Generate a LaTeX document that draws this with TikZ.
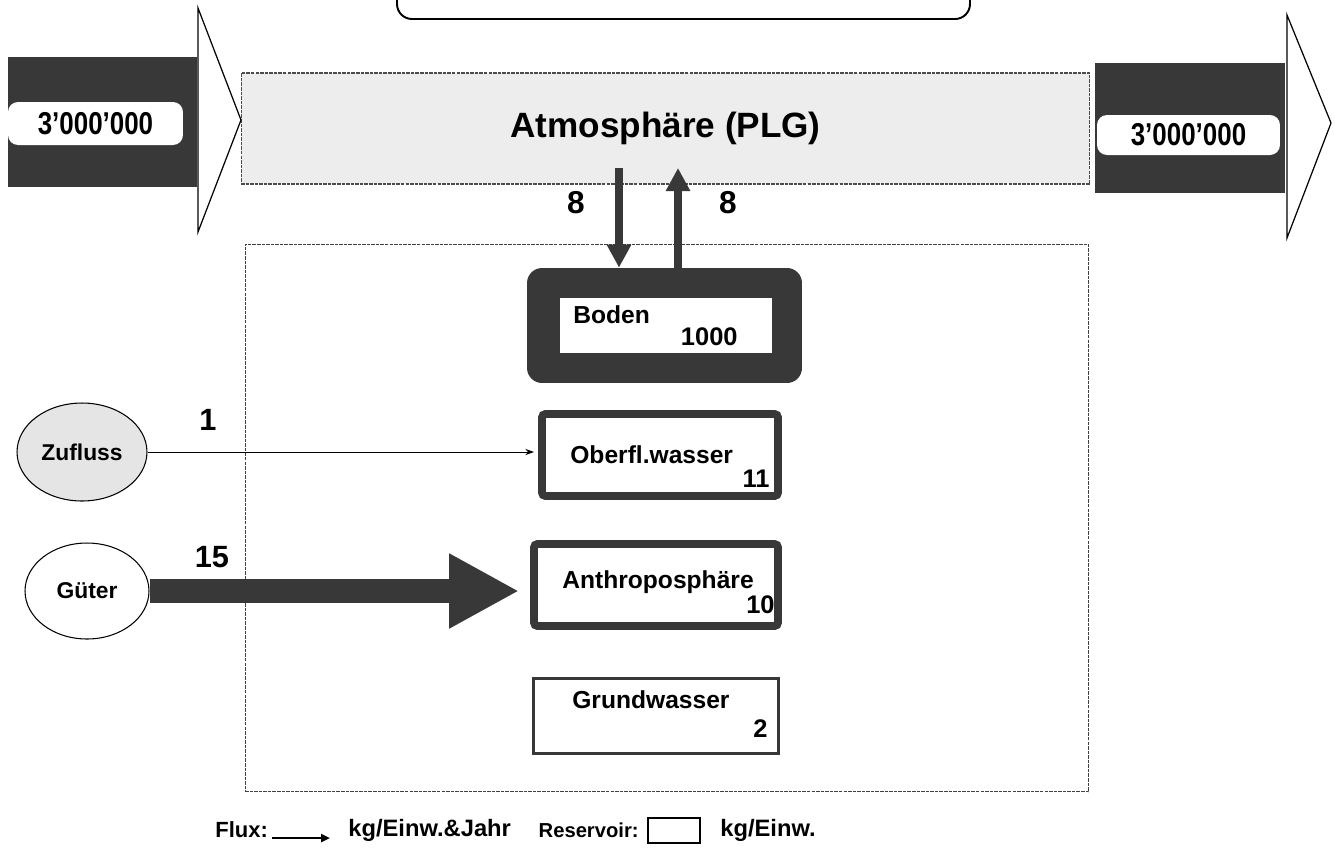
\documentclass[tikz,border=0pt]{standalone}
\usepackage{fontspec}
\usepackage{graphicx}
\setmainfont{Liberation Sans}
\usetikzlibrary{arrows.meta,shapes.geometric,calc}
\definecolor{ink}{gray}{0.22}
\definecolor{lightfill}{gray}{0.93}
\definecolor{zufill}{gray}{0.90}
\tikzset{
  lab/.style={font=\bfseries\fontsize{14}{16}\selectfont, inner sep=0},
  numlab/.style={font=\bfseries\fontsize{14.5}{16}\selectfont, inner sep=0},
  biglab/.style={font=\bfseries\fontsize{18}{20}\selectfont, inner sep=0},
  leg/.style={font=\bfseries\fontsize{13}{15}\selectfont, inner sep=0},
  darkbar/.style={fill=ink, draw=none, inner sep=0},
  pill/.style={fill=white, draw=none, rounded corners=0.2cm, inner sep=0,
               font=\bfseries\fontsize{18}{20}\selectfont},
  atm/.style={fill=lightfill, draw=black!70, line width=0.6pt,
              dash pattern=on 2pt off 0.6pt, inner sep=0,
              font=\bfseries\fontsize{20}{24}\selectfont},
  sysbox/.style={draw=black!75, line width=0.6pt, dash pattern=on 2pt off 0.6pt, inner sep=0},
  bodenbox/.style={fill=ink, draw=none, rounded corners=0.3cm, inner sep=0},
  resbox/.style={draw=ink, line width=4.5pt, rounded corners=2pt, fill=white, inner sep=0},
  resthin/.style={draw=ink, line width=1.7pt, fill=white, inner sep=0},
  source/.style={ellipse, draw=black, line width=0.6pt, inner sep=0,
                 font=\bfseries\fontsize{13}{15}\selectfont},
  vflow/.style={draw=ink, line width=0.16cm, -{Triangle[length=0.46cm,width=0.46cm]}},
  bigflow/.style={draw=ink, line width=0.48cm, -{Triangle[length=1.4cm,width=1.4cm]}},
  thinflow/.style={draw=black, line width=0.5pt, -{Stealth[length=5pt,width=3.5pt]}},
  outline/.style={draw=black, line width=0.7pt, line join=miter}
}
\begin{document}
\begin{tikzpicture}[x=0.02cm,y=-0.02cm]
\useasboundingbox (0,0) rectangle (1335,853);
\clip (0,0) rectangle (1335,853);
\fill[white] (0,0) rectangle (1335,853);

% top rounded frame (cut off by the page edge)
\draw[line width=1.1pt, rounded corners=0.3cm] (397,-60) rectangle (970,19);

% atmosphere
\node[atm, minimum width=16.98cm, minimum height=2.22cm] (atmos) at (665.5,128.5) {Atmosphäre (PLG)};

% inflow arrow (left)
\node[darkbar, minimum width=3.78cm, minimum height=2.6cm] (inbar) at (102.5,122) {};
\draw[outline] (198,8) -- (241,120) -- (198,232) -- cycle;
\node[pill, minimum width=3.5cm, minimum height=0.86cm] (inlab) at (95.5,123.5) {\scalebox{0.82}[1]{3’000’000}};

% outflow arrow (right)
\node[darkbar, minimum width=3.8cm, minimum height=2.6cm] (outbar) at (1190,128) {};
\draw[outline] (1287,15) -- (1331,123) -- (1287,238) -- cycle;
\node[pill, minimum width=3.66cm, minimum height=0.8cm] (outlab) at (1188.5,135) {\scalebox{0.82}[1]{3’000’000}};

% system boundary
\node[sysbox, minimum width=16.88cm, minimum height=10.96cm] (system) at (667,518) {};

% Boden
\node[bodenbox, minimum width=5.5cm, minimum height=2.3cm] (boden) at (664.5,325.5) {};
\node[fill=white, inner sep=0, minimum width=4.24cm, minimum height=1.1cm] (bodenin) at (666,325.5) {};
\node[lab, anchor=base west] (bodent) at (573,323) {Boden};
\node[numlab, anchor=base east] (bodenn) at (738,345) {1000};

% Oberflaechenwasser
\node[resbox, minimum width=4.72cm, minimum height=1.64cm] (ober) at (660,455) {};
\node[lab, anchor=base west] (obert) at (570,463) {Oberfl.wasser};
\node[numlab, anchor=base east] (obern) at (770,487) {11};

% Anthroposphaere
\node[resbox, minimum width=4.88cm, minimum height=1.64cm] (anthro) at (656,585) {};
\node[lab, anchor=base west] (anthrot) at (562,588) {Anthroposphäre};
\node[numlab, anchor=base east] (anthron) at (775,613) {10};

% Grundwasser
\node[resthin, minimum width=4.9cm, minimum height=1.5cm] (grund) at (656,716) {};
\node[lab, anchor=base west] (grundt) at (572,708) {Grundwasser};
\node[numlab, anchor=base east] (grundn) at (768,737) {2};

% sources
\node[source, fill=zufill, minimum width=2.6cm, minimum height=1.96cm] (zufluss) at (82,452) {Zufluss};
\node[source, fill=white, minimum width=2.48cm, minimum height=1.92cm] (gueter) at (87,591) {Güter};

% flows
\draw[thinflow, shorten >=0.08cm] (zufluss.east) -- (zufluss.east -| ober.west);
\node[biglab, font=\bfseries\fontsize{17.5}{20}\selectfont] (f1) at (208,420) {1};

\draw[bigflow, shorten >=0.22cm] (gueter.east) -- (gueter.east -| anthro.west);
\node[biglab, font=\bfseries\fontsize{17.5}{20}\selectfont] (f15) at (212,557) {15};

\coordinate (dtop) at (619,168);
\coordinate (utop) at (678,168);
\draw[vflow] (dtop) -- (dtop |- boden.north);
\draw[vflow] (utop |- boden.north) -- (utop);
\node[biglab] (f8a) at (576,203) {8};
\node[biglab] (f8b) at (728,203) {8};

% legend
\node[leg, anchor=west, font=\bfseries\fontsize{12.5}{14}\selectfont] (fluxlab) at (215,830) {Flux:};
\coordinate (fa) at (272,838);
\coordinate (fb) at (330,838);
\draw[draw=black, line width=0.05cm, -{Triangle[length=0.18cm,width=0.16cm]}] (fa) -- (fb);
\node[leg, anchor=west, font=\bfseries\fontsize{13.5}{15}\selectfont] (fluxunit) at (348,830) {kg/Einw.\&Jahr};
\node[leg, anchor=east, font=\bfseries\fontsize{11.5}{14}\selectfont] (reslab) at (639,830) {Reservoir:};
\node[draw=black, line width=1.2pt, inner sep=0, minimum width=1.04cm, minimum height=0.5cm] (resicon) at (674,830.5) {};
\node[leg, anchor=west, font=\bfseries\fontsize{13.5}{15}\selectfont] (resunit) at (720,830) {kg/Einw.};
\end{tikzpicture}
\end{document}
